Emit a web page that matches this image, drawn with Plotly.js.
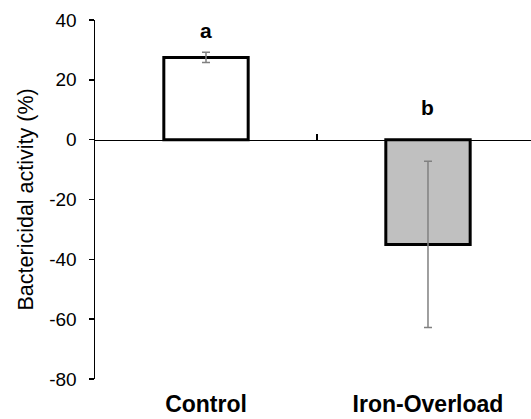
<!DOCTYPE html>
<html>
<head>
<meta charset="utf-8">
<script src="https://cdn.plot.ly/plotly-3.0.1.min.js"></script>
<style>html,body{margin:0;padding:0;background:#fff;}#chart{width:531px;height:419px;}</style>
</head>
<body>
<div id="chart"></div>
<script>
const categories = ['Control', 'Iron-Overload'];
const values = [27.5, -35];
const errors = [1.7, 27.8];
const letters = ['a', 'b'];
const letterY = [36.5, 10.6];
const fills = ['#ffffff', '#c0c0c0'];
const yTickVals = [-80, -60, -40, -20, 0, 20, 40];
const yTickText = ['-80', '-60', '-40', '-20', '0', '20', '40'];
const yTitle = 'Bactericidal activity (%)';

const font = 'Liberation Sans, Arial, sans-serif';

const bars = {
  type: 'bar',
  x: categories,
  y: values,
  width: 0.38,
  marker: {color: fills, line: {color: '#000000', width: 3}},
  error_y: {type: 'data', array: errors, visible: true, color: '#808080', thickness: 1.5, width: 4},
  hoverinfo: 'skip',
  showlegend: false
};
const zeroAxisTrace = {
  type: 'scatter',
  mode: 'markers',
  x: categories,
  y: values,
  xaxis: 'x2',
  yaxis: 'y',
  marker: {opacity: 0},
  hoverinfo: 'skip',
  showlegend: false
};

const annotations = categories.map((c, i) => ({
  x: c, y: letterY[i], xref: 'x', yref: 'y',
  text: '<b>' + letters[i] + '</b>', showarrow: false,
  font: {family: font, size: 21, color: '#000'},
  xanchor: 'center', yanchor: 'middle'
}));
annotations.push({
  xref: 'paper', yref: 'paper', x: 0, y: 0.50, xshift: -70,
  text: yTitle, textangle: -90, showarrow: false,
  font: {family: font, size: 21.5, color: '#000'},
  xanchor: 'center', yanchor: 'middle'
});

const layout = {
  width: 531, height: 419,
  margin: {l: 95, r: 0, t: 20, b: 40, pad: 0},
  paper_bgcolor: '#ffffff', plot_bgcolor: '#ffffff',
  xaxis: {
    type: 'category', range: [-0.5, 1.464],
    showline: false, ticks: '', showgrid: false, zeroline: false,
    tickfont: {family: font, size: 23, color: '#000', weight: 'bold'},
    ticklabelstandoff: 9,
    fixedrange: true
  },
  xaxis2: {
    type: 'category', overlaying: 'x', anchor: 'free', position: 2/3,
    range: [-0.5, 1.464],
    showline: true, linecolor: '#000', linewidth: 1.5,
    ticks: 'inside', tickson: 'boundaries', ticklen: 6, tickwidth: 1.5, tickcolor: '#000',
    showticklabels: false, showgrid: false, zeroline: false
  },
  yaxis: {
    range: [-80, 40], tickvals: yTickVals, ticktext: yTickText,
    showline: true, linecolor: '#000', linewidth: 1.5,
    ticks: 'outside', ticklen: 5, tickwidth: 1.5, tickcolor: '#000',
    showgrid: false, zeroline: false,
    tickfont: {family: font, size: 19, color: '#000'},
    ticklabelstandoff: 8
  },
  annotations: annotations
};

Plotly.newPlot('chart', [bars, zeroAxisTrace], layout, {staticPlot: true, displayModeBar: false});
</script>
</body>
</html>
